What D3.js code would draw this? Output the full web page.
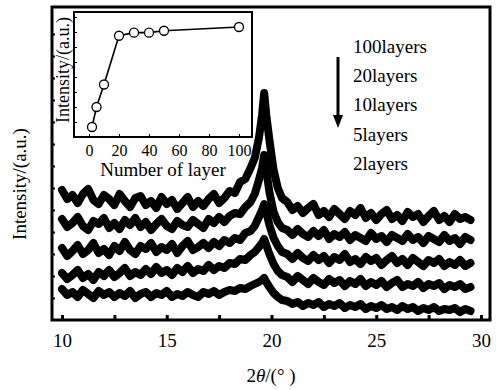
<!DOCTYPE html>
<html>
<head>
<meta charset="utf-8">
<script src="https://cdn.jsdelivr.net/npm/d3@7"></script>
<style>
    body { margin: 0; background: #fff; }
    svg text { font-family: "Liberation Serif", "Times New Roman", Times, serif; fill: #000; }
</style>
</head>
<body>
<script>
// 2theta positions of the sampled points (degrees)
var twoTheta = [10, 10.25, 10.5, 10.75, 11, 11.25, 11.5, 11.75, 12, 12.25, 12.5, 12.75,
    13, 13.25, 13.5, 13.75, 14, 14.25, 14.5, 14.75, 15, 15.25, 15.5, 15.75, 16, 16.25,
    16.5, 16.75, 17, 17.25, 17.5, 17.75, 18, 18.25, 18.5, 18.75, 19,
    19.2, 19.4, 19.55, 19.65, 19.75, 19.9, 20.1, 20.3, 20.5,
    20.75, 21, 21.25, 21.5, 21.75, 22, 22.25, 22.5, 22.75, 23, 23.25, 23.5, 23.75,
    24, 24.25, 24.5, 24.75, 25, 25.25, 25.5, 25.75, 26, 26.25, 26.5, 26.75, 27,
    27.25, 27.5, 27.75, 28, 28.25, 28.5, 28.75, 29, 29.25, 29.5];

// Intensity (a.u.) of each pattern
var layers100 = [130, 121, 125, 117, 126, 131, 120, 116, 125, 121, 115, 126,
    119, 113, 122, 124, 115, 119, 112, 123, 116, 120, 111, 117, 123, 113,
    119, 114, 121, 126, 117, 122, 129, 127, 138, 141, 152,
    162, 182, 205, 227, 205, 180, 150, 132, 122,
    118, 110, 114, 107, 112, 116, 105, 109, 103, 111, 106, 101, 109,
    105, 112, 102, 107, 100, 106, 110, 101, 105, 99, 108, 103, 106,
    98, 104, 109, 100, 104, 98, 106, 101, 103, 100];
var layers20 = [101, 93, 97, 103, 94, 90, 99, 96, 102, 92, 97, 91,
    100, 95, 102, 93, 98, 90, 96, 101, 94, 91, 99, 95, 93, 100,
    96, 92, 101, 97, 103, 98, 104, 107, 106, 113, 118,
    126, 140, 152, 165, 150, 128, 108, 98, 92,
    90, 85, 91, 86, 83, 89, 84, 90, 81, 86, 83, 88, 80,
    85, 82, 79, 87, 81, 84, 78, 85, 82, 79, 86, 80, 83,
    77, 84, 81, 78, 85, 79, 82, 76, 83, 80];
var layers10 = [72, 64, 69, 75, 66, 70, 77, 67, 71, 65, 74, 69,
    78, 70, 66, 74, 71, 77, 68, 73, 70, 76, 67, 74, 79, 70,
    73, 77, 72, 78, 74, 80, 77, 82, 80, 87, 89,
    94, 103, 110, 116, 108, 95, 82, 74, 68,
    66, 61, 67, 62, 59, 65, 60, 64, 57, 63, 60, 66, 58,
    61, 56, 63, 59, 62, 55, 60, 64, 57, 61, 55, 62, 58,
    54, 60, 57, 61, 54, 58, 55, 60, 54, 57];
var layers5 = [47, 41, 45, 50, 42, 46, 40, 48, 44, 50, 43, 47,
    52, 44, 48, 45, 51, 46, 53, 47, 50, 45, 52, 48, 54, 47,
    51, 49, 55, 50, 54, 52, 57, 56, 61, 60, 65,
    68, 73, 77, 81, 75, 66, 56, 49, 45,
    43, 38, 44, 40, 36, 42, 38, 35, 41, 37, 40, 34, 39,
    36, 41, 34, 38, 35, 39, 33, 37, 40, 33, 36, 34, 38,
    32, 36, 34, 37, 31, 35, 33, 36, 31, 33];
var layers2 = [31, 25, 28, 23, 30, 26, 22, 29, 25, 28, 23, 27,
    24, 29, 22, 26, 28, 23, 27, 25, 29, 23, 26, 24, 28, 25,
    23, 28, 26, 29, 25, 28, 30, 29, 32, 31, 34,
    36, 38, 40, 42, 38, 33, 27, 23, 20,
    19, 16, 18, 14, 17, 15, 18, 13, 16, 14, 17, 12, 15,
    13, 16, 11, 14, 12, 15, 11, 13, 10, 14, 11, 13, 9,
    12, 10, 13, 9, 11, 10, 12, 8, 11, 9];

var legendLabels = ["100layers", "20layers", "10layers", "5layers", "2layers"];
var xTickLabels = [10, 15, 20, 25, 30];

// Inset: peak intensity against number of layers
var layerCounts = [2, 5, 10, 20, 30, 40, 50, 100];
var peakIntensity = [8, 24, 42, 81, 83.5, 83.5, 85, 88];
var insetTickLabels = [0, 20, 40, 60, 80, 100];

var width = 496,
    height = 390;

var svg = d3.select("body")
    .append("svg")
    .attr("width", width)
    .attr("height", height);

// Main scales
var x = d3.scaleLinear()
    .domain([10, 30])
    .range([62, 481]);

var y = d3.scaleLinear()
    .domain([0, 312])
    .range([320, 8]);

// Patterns, drawn as thick noisy lines
var line = d3.line()
    .x(function(d, i){ return x(twoTheta[i]); })
    .y(function(d){ return y(d); });

svg.selectAll(".pattern")
    .data([layers100, layers20, layers10, layers5, layers2])
    .enter()
    .append("path")
    .attr("class", "pattern")
    .attr("d", line)
    .attr("fill", "none")
    .attr("stroke", "#000")
    .attr("stroke-width", 8)
    .attr("stroke-linejoin", "round")
    .attr("stroke-linecap", "round");

// Bottom axis: inward ticks every 2.5, labels every 5
var xAxis = svg.append("g")
    .attr("transform", "translate(0,320)")
    .call(d3.axisBottom(x)
        .tickValues([10, 12.5, 15, 17.5, 20, 22.5, 25, 27.5, 30])
        .tickSizeInner(-5)
        .tickSizeOuter(0)
        .tickPadding(14)
        .tickFormat(function(d){ return xTickLabels.indexOf(d) >= 0 ? d : ""; }));
xAxis.attr("font-family", null);
xAxis.select(".domain").remove();
xAxis.selectAll("line").attr("stroke-width", 3);
xAxis.selectAll("text").style("font-size", "19px");

// Left axis: small inward ticks, no labels
var yAxis = svg.append("g")
    .attr("transform", "translate(52,0)")
    .call(d3.axisLeft(y)
        .tickValues([22, 44, 66, 88, 110, 132, 154, 176, 198, 220, 242, 264, 286])
        .tickSizeInner(-3)
        .tickSizeOuter(0)
        .tickFormat(""));
yAxis.select(".domain").remove();
yAxis.selectAll("line").attr("stroke-width", 2);

// Frame
svg.append("rect")
    .attr("x", 52)
    .attr("y", 7)
    .attr("width", 438)
    .attr("height", 313)
    .attr("fill", "none")
    .attr("stroke", "#000")
    .attr("stroke-width", 3);

// Axis titles
var xTitle = svg.append("text")
    .attr("x", 271)
    .attr("y", 382)
    .attr("text-anchor", "middle")
    .style("font-size", "19px");
xTitle.append("tspan").text("2");
xTitle.append("tspan").style("font-style", "italic").text("θ");
xTitle.append("tspan").text("/(° )");

svg.append("text")
    .attr("transform", "translate(26,184) rotate(-90)")
    .attr("text-anchor", "middle")
    .style("font-size", "19px")
    .text("Intensity/(a.u.)");

// Legend and arrow
svg.selectAll(".legend")
    .data(legendLabels)
    .enter()
    .append("text")
    .attr("class", "legend")
    .attr("x", 353)
    .attr("y", function(d, i){ return 53 + i * 29.2; })
    .style("font-size", "19px")
    .text(function(d){ return d; });

svg.append("line")
    .attr("x1", 338).attr("y1", 57)
    .attr("x2", 338).attr("y2", 117)
    .attr("stroke", "#000")
    .attr("stroke-width", 3);
svg.append("path")
    .attr("d", "M333,115 L343,115 L338,128 Z")
    .attr("fill", "#000");

// Inset
var ix = d3.scaleLinear()
    .domain([0, 100])
    .range([89, 239]);

var iy = d3.scaleLinear()
    .domain([0, 100])
    .range([137, 12]);

svg.append("rect")
    .attr("x", 74)
    .attr("y", 12)
    .attr("width", 178)
    .attr("height", 125)
    .attr("fill", "#fff")
    .attr("stroke", "#000")
    .attr("stroke-width", 2);

var ixAxis = svg.append("g")
    .attr("transform", "translate(0,137)")
    .call(d3.axisBottom(ix)
        .tickValues(insetTickLabels)
        .tickSizeInner(-3)
        .tickSizeOuter(0)
        .tickPadding(8));
ixAxis.attr("font-family", null);
ixAxis.select(".domain").remove();
ixAxis.selectAll("text").style("font-size", "16px");

var iyAxis = svg.append("g")
    .attr("transform", "translate(74,0)")
    .call(d3.axisLeft(iy)
        .tickValues([12, 24, 36, 48, 60, 72, 84, 96])
        .tickSizeInner(-3)
        .tickSizeOuter(0)
        .tickFormat(""));
iyAxis.select(".domain").remove();

svg.append("path")
    .datum(peakIntensity)
    .attr("d", d3.line()
        .x(function(d, i){ return ix(layerCounts[i]); })
        .y(function(d){ return iy(d); }))
    .attr("fill", "none")
    .attr("stroke", "#000")
    .attr("stroke-width", 1.6);

svg.selectAll(".pt")
    .data(peakIntensity)
    .enter()
    .append("circle")
    .attr("class", "pt")
    .attr("cx", function(d, i){ return ix(layerCounts[i]); })
    .attr("cy", function(d){ return iy(d); })
    .attr("r", 4.5)
    .attr("fill", "#fff")
    .attr("stroke", "#000")
    .attr("stroke-width", 1.3);

svg.append("text")
    .attr("x", 163)
    .attr("y", 176)
    .attr("text-anchor", "middle")
    .style("font-size", "19px")
    .text("Number of layer");

svg.append("text")
    .attr("transform", "translate(69,70) rotate(-90)")
    .attr("text-anchor", "middle")
    .style("font-size", "18px")
    .text("Intensity/(a.u.)");
</script>
</body>
</html>
